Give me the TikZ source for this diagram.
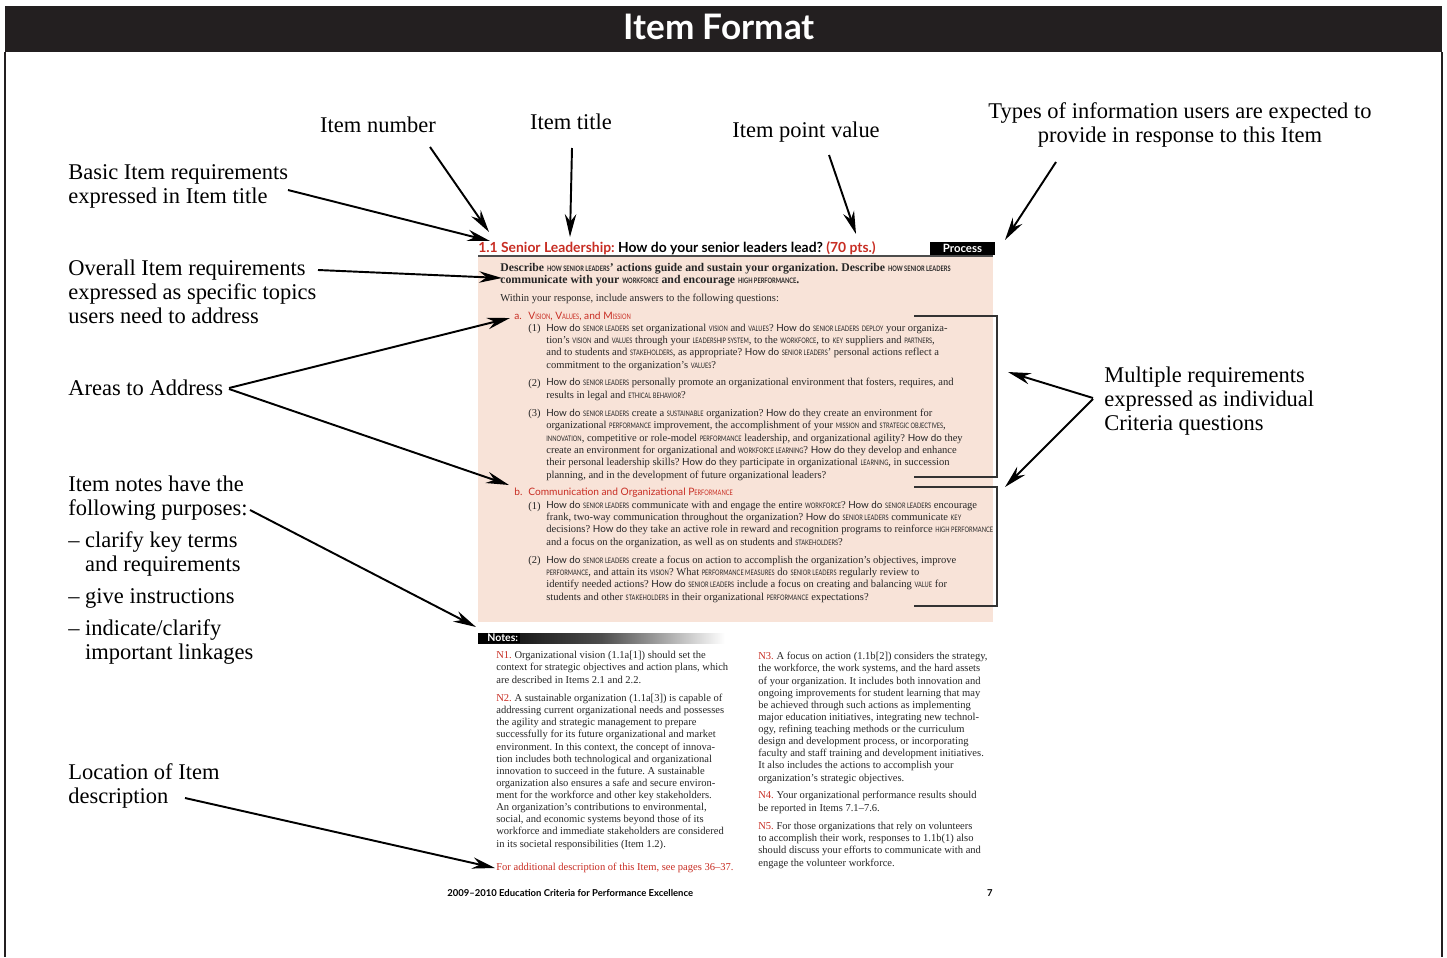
\documentclass[tikz,border=0pt]{standalone}
\usepackage{fontspec}
\setmainfont{Liberation Serif}
\setsansfont{Lato}
\usetikzlibrary{arrows.meta}
\definecolor{critred}{RGB}{200,45,35}
\definecolor{critpink}{RGB}{248,227,216}
\definecolor{barblack}{RGB}{35,31,32}
\newcommand{\kt}[1]{{\sffamily\fontsize{4.3}{5}\selectfont\scalebox{0.75}[1]{\MakeUppercase{#1}}}}
\newcommand{\hd}{{\sffamily\fontsize{5.6}{7}\selectfont How do}}
\newcommand{\nr}[1]{\textcolor{critred}{#1}}
\frenchspacing
\tikzset{
  lab/.style={font=\fontsize{12.8}{13.6}\selectfont, align=left, inner sep=0pt},
  arr/.style={-{Stealth[length=13pt,width=6.5pt]}, line width=1.1pt},
  crit/.style={font=\fontsize{6}{7}\selectfont, align=left, inner sep=0pt, text=black!85},
  crith/.style={font=\sffamily\fontsize{5.8}{7}\selectfont, text=critred, inner sep=0pt},
  note/.style={font=\fontsize{6}{6.9}\selectfont, align=left, inner sep=0pt, text=black!85},
  brk/.style={line width=0.8pt, black!80}
}
\begin{document}
\begin{tikzpicture}[x=0.02cm, y=-0.02cm]
  \useasboundingbox (0,0) rectangle (1447,957);
  \fill[white] (0,0) rectangle (1447,957);

  % cadre et titre
  \fill[barblack] (5,6) rectangle (1442,52);
  \draw[line width=1.2pt, barblack] (5,52) -- (5,957);
  \draw[line width=1.2pt, barblack] (1442,52) -- (1442,957);
  \node[text=white, font=\sffamily\bfseries\fontsize{20}{22}\selectfont] (title) at (719,27) {Item Format};

  % la page
  \fill[critpink] (478,257) rectangle (993,622);
  \draw[line width=0.9pt, black!70] (478,256) -- (993,256);
  \node[anchor=base west, inner sep=0pt, font=\sffamily\bfseries\fontsize{7.9}{8}\selectfont] (hdr) at (478,252.5)
    {\textcolor{critred}{1.1 Senior Leadership:} How do your senior leaders lead? \textcolor{critred}{(70 pts.)}};
  \node[fill=black, text=white, inner sep=0pt, minimum width=1.3cm, minimum height=0.26cm,
    font=\sffamily\bfseries\fontsize{6.5}{7}\selectfont] (proc) at (962.5,248.5) {Process};

  \node[crit, font=\bfseries\fontsize{6.7}{6.8}\selectfont, anchor=base west] (intro) at (500,283)
    {Describe \kt{how senior leaders}' actions guide and sustain your organization. Describe \kt{how senior leaders}\\
     communicate with your \kt{workforce} and encourage \kt{high performance}.};
  \node[crit, anchor=base west] (within) at (500,301) {Within your response, include answers to the following questions:};

  \node[crith, anchor=base west] (han) at (514,319) {a.};
  \node[crith, anchor=base west] (ha) at (528,319) {V\kt{ision}, V\kt{alues}, and M\kt{ission}};
  \node[crit, anchor=base west] (a1n) at (528,331) {(1)};
  \node[crit, anchor=base west] (a1) at (546,368)
    {\hd{} \kt{senior leaders} set organizational \kt{vision} and \kt{values}? \hd{} \kt{senior leaders} \kt{deploy} your organiza-\\
     tion's \kt{vision} and \kt{values} through your \kt{leadership system}, to the \kt{workforce}, to \kt{key} suppliers and \kt{partners},\\
     and to students and \kt{stakeholders}, as appropriate? \hd{} \kt{senior leaders}' personal actions reflect a\\
     commitment to the organization's \kt{values}?};
  \node[crit, anchor=base west] (a2n) at (528,386) {(2)};
  \node[crit, anchor=base west] (a2) at (546,398)
    {\hd{} \kt{senior leaders} personally promote an organizational environment that fosters, requires, and\\
     results in legal and \kt{ethical behavior}?};
  \node[crit, anchor=base west] (a3n) at (528,416) {(3)};
  \node[crit, anchor=base west] (a3) at (546,478)
    {\hd{} \kt{senior leaders} create a \kt{sustainable} organization? \hd{} they create an environment for\\
     organizational \kt{performance} improvement, the accomplishment of your \kt{mission} and \kt{strategic objectives},\\
     \kt{innovation}, competitive or role-model \kt{performance} leadership, and organizational agility? \hd{} they\\
     create an environment for organizational and \kt{workforce learning}? \hd{} they develop and enhance\\
     their personal leadership skills? \hd{} they participate in organizational \kt{learning}, in succession\\
     planning, and in the development of future organizational leaders?};

  \node[crith, anchor=base west] (hbn) at (514,495) {b.};
  \node[crith, anchor=base west] (hb) at (528,495) {Communication and Organizational P\kt{erformance}};
  \node[crit, anchor=base west] (b1n) at (528,509) {(1)};
  \node[crit, anchor=base west] (b1) at (546,545)
    {\hd{} \kt{senior leaders} communicate with and engage the entire \kt{workforce}? \hd{} \kt{senior leaders} encourage\\
     frank, two-way communication throughout the organization? \hd{} \kt{senior leaders} communicate \kt{key}\\
     decisions? \hd{} they take an active role in reward and recognition programs to reinforce \kt{high performance}\\
     and a focus on the organization, as well as on students and \kt{stakeholders}?};
  \node[crit, anchor=base west] (b2n) at (528,563) {(2)};
  \node[crit, anchor=base west] (b2) at (546,600)
    {\hd{} \kt{senior leaders} create a focus on action to accomplish the organization's objectives, improve\\
     \kt{performance}, and attain its \kt{vision}? What \kt{performance measures} do \kt{senior leaders} regularly review to\\
     identify needed actions? \hd{} \kt{senior leaders} include a focus on creating and balancing \kt{value} for\\
     students and other \kt{stakeholders} in their organizational \kt{performance} expectations?};

  % crochets
  \draw[brk] (914,316) -- (997,316) -- (997,477) -- (914,477);
  \draw[brk] (914,487) -- (997,487) -- (997,606) -- (914,606);

  % notes
  \shade[left color=black, right color=white, middle color=black!70] (478,633) rectangle (725,643);
  \fill[black] (478,633) rectangle (520,643);
  \node[anchor=base west, inner sep=0pt, text=white, font=\sffamily\bfseries\fontsize{6}{7}\selectfont] (notes) at (487,641) {Notes:};
  \node[note, anchor=base west] (n1) at (496,683)
    {\nr{N1.} Organizational vision (1.1a[1]) should set the\\
     context for strategic objectives and action plans, which\\
     are described in Items 2.1 and 2.2.};
  \node[note, anchor=base west] (n2) at (496,847)
    {\nr{N2.} A sustainable organization (1.1a[3]) is capable of\\
     addressing current organizational needs and possesses\\
     the agility and strategic management to prepare\\
     successfully for its future organizational and market\\
     environment. In this context, the concept of innova-\\
     tion includes both technological and organizational\\
     innovation to succeed in the future. A sustainable\\
     organization also ensures a safe and secure environ-\\
     ment for the workforce and other key stakeholders.\\
     An organization's contributions to environmental,\\
     social, and economic systems beyond those of its\\
     workforce and immediate stakeholders are considered\\
     in its societal responsibilities (Item 1.2).};
  \node[note, anchor=base west, text=critred] (nadd) at (496,870)
    {For additional description of this Item, see pages 36--37.};
  \node[note, anchor=base west] (n3) at (758,781)
    {\nr{N3.} A focus on action (1.1b[2]) considers the strategy,\\
     the workforce, the work systems, and the hard assets\\
     of your organization. It includes both innovation and\\
     ongoing improvements for student learning that may\\
     be achieved through such actions as implementing\\
     major education initiatives, integrating new technol-\\
     ogy, refining teaching methods or the curriculum\\
     design and development process, or incorporating\\
     faculty and staff training and development initiatives.\\
     It also includes the actions to accomplish your\\
     organization's strategic objectives.};
  \node[note, anchor=base west] (n4) at (758,811)
    {\nr{N4.} Your organizational performance results should\\
     be reported in Items 7.1--7.6.};
  \node[note, anchor=base west] (n5) at (758,866)
    {\nr{N5.} For those organizations that rely on volunteers\\
     to accomplish their work, responses to 1.1b(1) also\\
     should discuss your efforts to communicate with and\\
     engage the volunteer workforce.};
  \node[anchor=base west, inner sep=0pt, font=\sffamily\bfseries\fontsize{5.4}{6}\selectfont] (foot) at (447,896)
    {2009--2010 Education Criteria for Performance Excellence};
  \node[anchor=base east, inner sep=0pt, font=\sffamily\bfseries\fontsize{5.4}{6}\selectfont] (pnum) at (993,896) {7};

  % les etiquettes
  \node[lab, anchor=base west] (lbasic) at (68,203) {Basic Item requirements\\expressed in Item title};
  \node[lab, anchor=base west] (loverall) at (68,323) {Overall Item requirements\\expressed as specific topics\\users need to address};
  \node[lab, anchor=base west] (lareas) at (68,395) {Areas to Address};
  \node[lab, anchor=base west] (lnotes) at (68,659)
    {Item notes have the\\following purposes:\\[4.5pt]
     -- clarify key terms\\\phantom{-- }and requirements\\[4.5pt]
     -- give instructions\\[4.5pt]
     -- indicate/clarify\\\phantom{-- }important linkages};
  \node[lab, anchor=base west] (lloc) at (68,803) {Location of Item\\description};
  \node[lab, anchor=base] (lnum) at (378,132) {Item number};
  \node[lab, anchor=base] (ltitle) at (571,129) {Item title};
  \node[lab, anchor=base] (lpts) at (806,137) {Item point value};
  \node[lab, align=center, anchor=base] (ltypes) at (1180,142)
    {Types of information users are expected to\\provide in response to this Item};
  \node[lab, anchor=base west] (lmulti) at (1104,430) {Multiple requirements\\expressed as individual\\Criteria questions};

  % pointes des fleches
  \coordinate (tbasic) at (490,241);
  \coordinate (tnum) at (489,232);
  \coordinate (ttitle) at (570,237);
  \coordinate (tpts) at (856,234);
  \coordinate (ttypes) at (1005,240);
  \coordinate (toverall) at (502,278);
  \coordinate (tareasa) at (510,318);
  \coordinate (tareasb) at (509,485);
  \coordinate (tnotes) at (476,627);
  \coordinate (tloc) at (495,868);
  \coordinate (tmultia) at (1008,372);
  \coordinate (tmultib) at (1005,487);

  \draw[arr] ([shift={(220,-13)}]lbasic.base west) -- (tbasic);
  \draw[arr] ([shift={(52,15)}]lnum.base) -- (tnum);
  \draw[arr] ([shift={(1,19)}]ltitle.base) -- (ttitle);
  \draw[arr] ([shift={(23,18)}]lpts.base) -- (tpts);
  \draw[arr] ([shift={(-124,20)}]ltypes.base) -- (ttypes);
  \draw[arr] ([shift={(250,-53)}]loverall.base west) -- (toverall);
  \draw[arr] ([shift={(161,-7)}]lareas.base west) -- (tareasa);
  \draw[arr] ([shift={(161,-6)}]lareas.base west) -- (tareasb);
  \draw[arr] ([shift={(182,-149)}]lnotes.base west) -- (tnotes);
  \draw[arr] ([shift={(117,-5)}]lloc.base west) -- (tloc);
  \draw[arr] ([shift={(-11,-32)}]lmulti.base west) -- (tmultia);
  \draw[arr] ([shift={(-11,-31)}]lmulti.base west) -- (tmultib);

\end{tikzpicture}
\end{document}
